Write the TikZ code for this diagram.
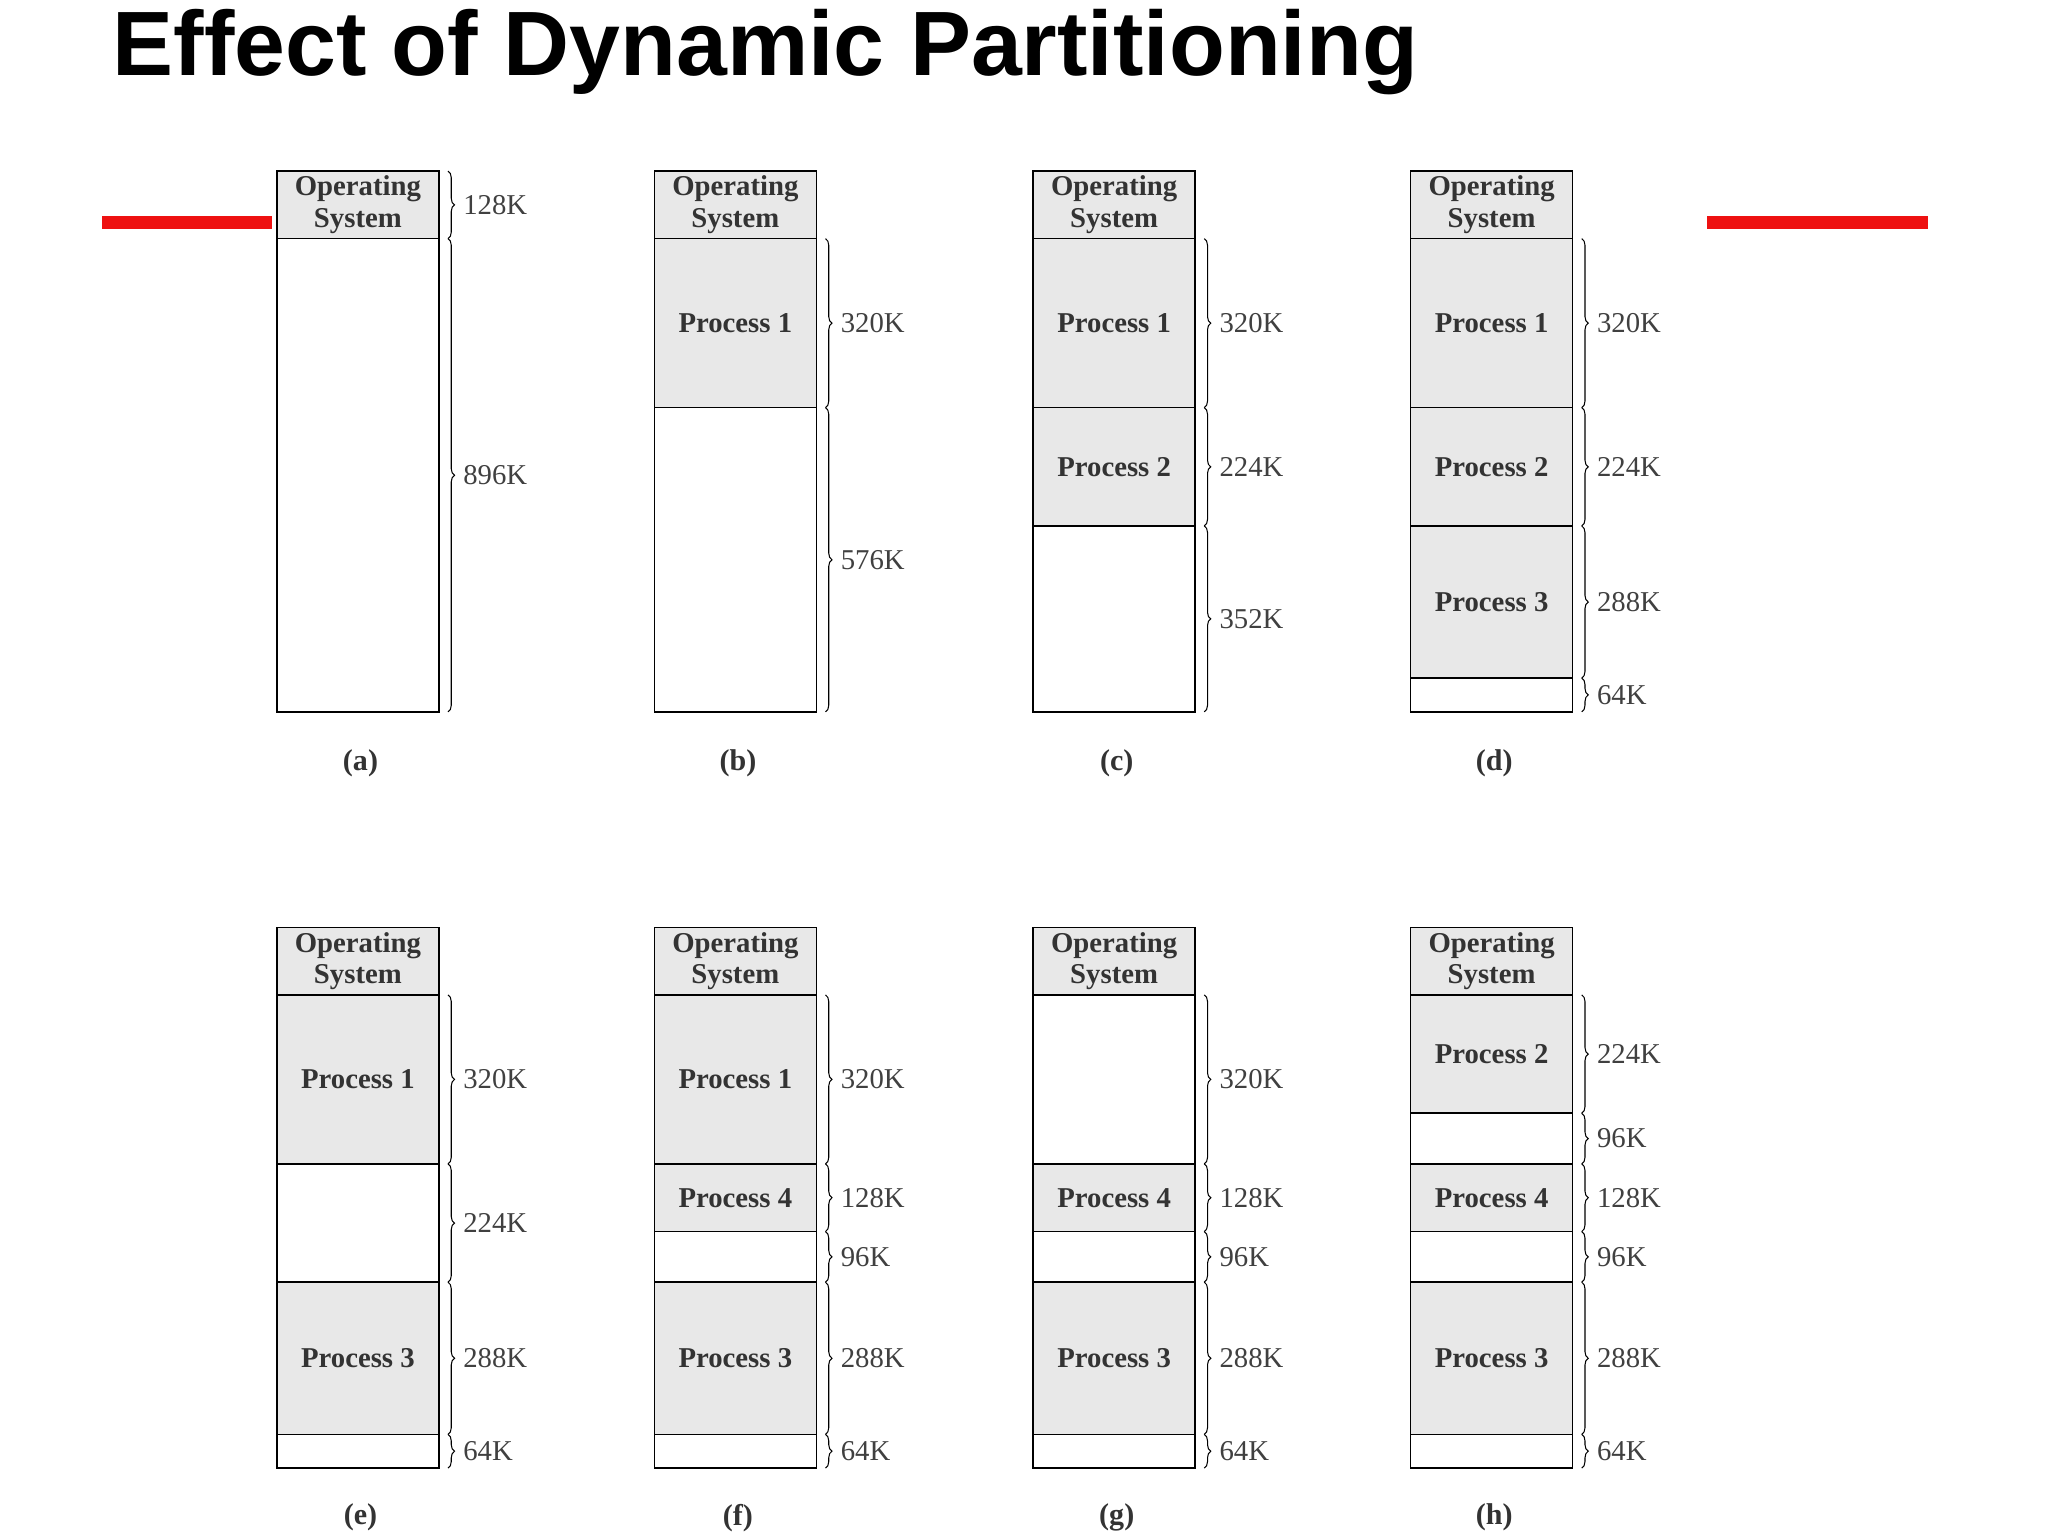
\documentclass[tikz,border=0pt]{standalone}
\usepackage{fontspec}
\setmainfont{Liberation Serif}
\newfontfamily\titlefont{Liberation Sans}
\usetikzlibrary{decorations.pathreplacing}
\definecolor{procgray}{HTML}{E8E8E8}
\definecolor{redbar}{HTML}{EE1111}
\tikzset{
 seg/.style={draw=black, line width=1.2pt, minimum width=124, inner sep=0pt, outer sep=0pt, font=\fontsize{22}{23}\selectfont\bfseries, text=black!80},
 memb/.style={decorate, decoration={brace, amplitude=5pt}, line width=0.8pt},
 szlab/.style={font=\fontsize{22}{23}\selectfont, text=black!75, right=8pt},
 capt/.style={font=\fontsize{23}{24}\selectfont\bfseries, text=black!80},
}
\newcommand\memcol[5]{% x, top, letter, list lab/size/fill, os brace?
 \node[seg, fill=procgray, minimum height=51.75, anchor=north west] (os#3) at (#1,#2) {\shortstack{Operating\\[2pt]System}};
 #5
 \pgfmathsetmacro\tmpy{#2+51.75}\global\let\cury\tmpy
 \foreach \lab/\sz/\fc [count=\i] in {#4} {
   \pgfmathsetmacro\h{\sz*0.4043}
   \node[seg, fill=\fc, minimum height=\h, anchor=north west] (s#3\i) at (#1,\cury) {\lab};
   \draw[memb] ([xshift=7pt]s#3\i.north east) -- ([xshift=7pt]s#3\i.south east) node[midway, szlab] {\sz K};
   \pgfmathsetmacro\ny{\cury+\h}\global\let\cury\ny
 }
}
\begin{document}
\begin{tikzpicture}[x=1pt,y=-1pt]
\useasboundingbox (0,0) rectangle (1568,1176);
\node[anchor=base west, inner sep=0pt, font=\titlefont\fontsize{70}{70}\selectfont\bfseries] (title) at (86,58) {Effect of Dynamic Partitioning};
\fill[redbar] (78,165) rectangle (208,175);
\fill[redbar] (1307,165) rectangle (1476,175);
% top row
\memcol{212}{131}{a}{/896/white}{\draw[memb] ([xshift=7pt]osa.north east) -- ([xshift=7pt]osa.south east) node[midway, szlab] {128K};}
\memcol{501}{131}{b}{Process 1/320/procgray,/576/white}{}
\memcol{791}{131}{c}{Process 1/320/procgray,Process 2/224/procgray,/352/white}{}
\memcol{1080}{131}{d}{Process 1/320/procgray,Process 2/224/procgray,Process 3/288/procgray,/64/white}{}
% bottom row
\memcol{212}{710}{e}{Process 1/320/procgray,/224/white,Process 3/288/procgray,/64/white}{}
\memcol{501}{710}{f}{Process 1/320/procgray,Process 4/128/procgray,/96/white,Process 3/288/procgray,/64/white}{}
\memcol{791}{710}{g}{/320/white,Process 4/128/procgray,/96/white,Process 3/288/procgray,/64/white}{}
\memcol{1080}{710}{h}{Process 2/224/procgray,/96/white,Process 4/128/procgray,/96/white,Process 3/288/procgray,/64/white}{}
% captions
\node[capt] (ca) at (276,584) {(a)};
\node[capt] (cb) at (565,584) {(b)};
\node[capt] (cc) at (855,584) {(c)};
\node[capt] (cd) at (1144,584) {(d)};
\node[capt] (ce) at (276,1162) {(e)};
\node[capt] (cf) at (565,1162) {(f)};
\node[capt] (cg) at (855,1162) {(g)};
\node[capt] (ch) at (1144,1162) {(h)};
\end{tikzpicture}
\end{document}
